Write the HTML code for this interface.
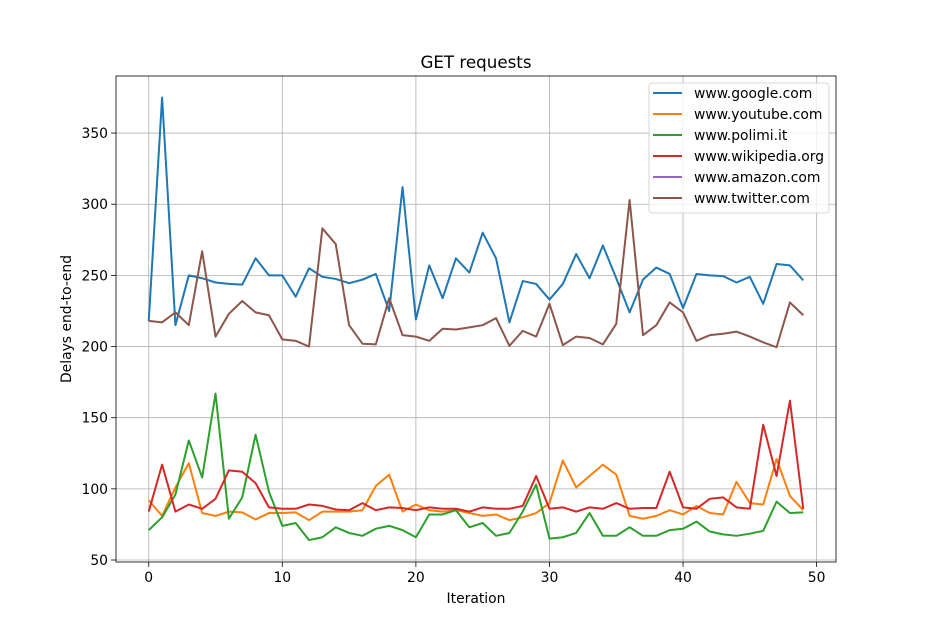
<!DOCTYPE html>
<html><head><meta charset="utf-8"><style>
body{margin:0;background:#fff}
svg text{font-family:"DejaVu Sans","Liberation Sans",sans-serif;fill:#000}
</style></head><body>
<svg id="chart" width="928" height="632" xmlns="http://www.w3.org/2000/svg">
<rect width="928" height="632" fill="#fff"/>
<g id="grid"></g><g id="series"></g><g id="axes"></g><g id="legend"></g>
</svg>
<script>
const iterations = Array.from({length:50},(_,i)=>i);
const google = [218,375,215,250,248,245,244,243.5,262,250,250,235,255,249,247.5,244.5,247,251,225,312,219,257,234,262,252,280,262,217,246,244,233,244,265,248,271,248,224,247,255.5,251,227,251,250,249.5,245,249,230,258,257,246.5];
const youtube = [92,81,101,118,83,81,84,83.5,78.5,83,83,83.5,78,84,84,84,85,102,110,84,89,85,84,85,83,81,82,78,80,83,90,120,101,109,117,110,81,79,81,85,82,88,83,82,105,90,89,121,95,85];
const polimi = [71,80,96,134,108,167,79,94,138,98,74,76,64,66,73,69,67,72,74,71,66,82,82,85,73,76,67,69,84,103,65,66,69,83,67,67,73,67,67,71,72,77,70,68,67,68.5,70.5,91,83,83.5];
const wikipedia = [84,117,84,89,86,93,113,112,104,87,86,86,89,88,85.5,85,90,85,87,86.5,85,87,86,86,84,87,86,86,88,109,86,87,84,87,86,90,86,86.5,86.5,112,87,86,93,94,87,86,145,109,162,86];
const amazon = [];
const twitter = [218,217,224,215,267,207,223,232,224,222,205,204,200,283,272,215,202,201.5,234,208,207,204,212.5,212,213.5,215,220,200.5,211,207,230,201,207,206,201.5,216,303,208,215,231,224,204,208,209,210.5,207,203,199.5,231,222];
const seriesNames = ["www.google.com","www.youtube.com","www.polimi.it","www.wikipedia.org","www.amazon.com","www.twitter.com"];
const seriesColors = ["#1f77b4","#ff7f0e","#2ca02c","#d62728","#9467bd","#8c564b"];
const xTicks = [0,10,20,30,40,50];
const yTicks = [50,100,150,200,250,300,350];

const NS="http://www.w3.org/2000/svg";
const L=116,R=836,T=76,B=562;
const X0=-2.45,X1=51.45,Y0=48.6,Y1=390.1;
const sx=v=>L+(v-X0)/(X1-X0)*(R-L);
const sy=v=>B-(v-Y0)/(Y1-Y0)*(B-T);
function mk(tag,attrs,parent){const e=document.createElementNS(NS,tag);for(const k in attrs)e.setAttribute(k,attrs[k]);parent.appendChild(e);return e;}
const grid=document.getElementById('grid'),axes=document.getElementById('axes'),ser=document.getElementById('series'),leg=document.getElementById('legend');
xTicks.forEach(t=>{const x=sx(t);
 const g=mk('line',{x1:x,x2:x,y1:T,y2:B,stroke:'#b0b0b0','stroke-width':0.8},grid);
 
 
 mk('line',{x1:x,x2:x,y1:B,y2:B+4.9,stroke:'#000','stroke-width':0.8},axes);
 const tx=mk('text',{x:x,y:B+20,'text-anchor':'middle','font-size':13.9},axes);tx.textContent=t;
 
 
});
yTicks.forEach(t=>{const y=sy(t);
 const g=mk('line',{x1:L,x2:R,y1:y,y2:y,stroke:'#b0b0b0','stroke-width':0.8},grid);
 
 
 mk('line',{x1:L-4.9,x2:L,y1:y,y2:y,stroke:'#000','stroke-width':0.8},axes);
 const tx=mk('text',{x:L-8,y:y+5,'text-anchor':'end','font-size':13.9},axes);tx.textContent=t;
 
 
});
const frame=mk('rect',{x:L,y:T,width:R-L,height:B-T,fill:'none',stroke:'#000','stroke-width':0.8},axes);


const title=mk('text',{x:(L+R)/2,y:68,'text-anchor':'middle','font-size':16.7},axes);title.textContent='GET requests';


const xl=mk('text',{x:(L+R)/2,y:603,'text-anchor':'middle','font-size':13.9},axes);xl.textContent='Iteration';


const yl=mk('text',{x:0,y:0,'text-anchor':'middle','font-size':13.9,transform:`translate(71,${(T+B)/2}) rotate(-90)`},axes);yl.textContent='Delays end-to-end';


const all=[google,youtube,polimi,wikipedia,amazon,twitter];
all.forEach((d,i)=>{
 if(!d.length)return;
 const p=d.map((v,j)=>(j?'L':'M')+sx(iterations[j]).toFixed(2)+','+sy(v).toFixed(2)).join('');
 const e=mk('path',{d:p,fill:'none',stroke:seriesColors[i],'stroke-width':2,'stroke-linejoin':'round'},ser);
 
 
});
const box=mk('rect',{x:649,y:83,width:180,height:130,rx:3,fill:'#fff','fill-opacity':0.8,stroke:'#ccc','stroke-width':0.8},leg);


seriesNames.forEach((n,i)=>{const y=93+i*21;
 const g=mk('g',{},leg);
 
 
 mk('line',{x1:653,x2:682,y1:y,y2:y,stroke:seriesColors[i],'stroke-width':2},g);
 const t=mk('text',{x:694,y:y+5,'font-size':13.9},g);t.textContent=n;
});
</script>
</body></html>
